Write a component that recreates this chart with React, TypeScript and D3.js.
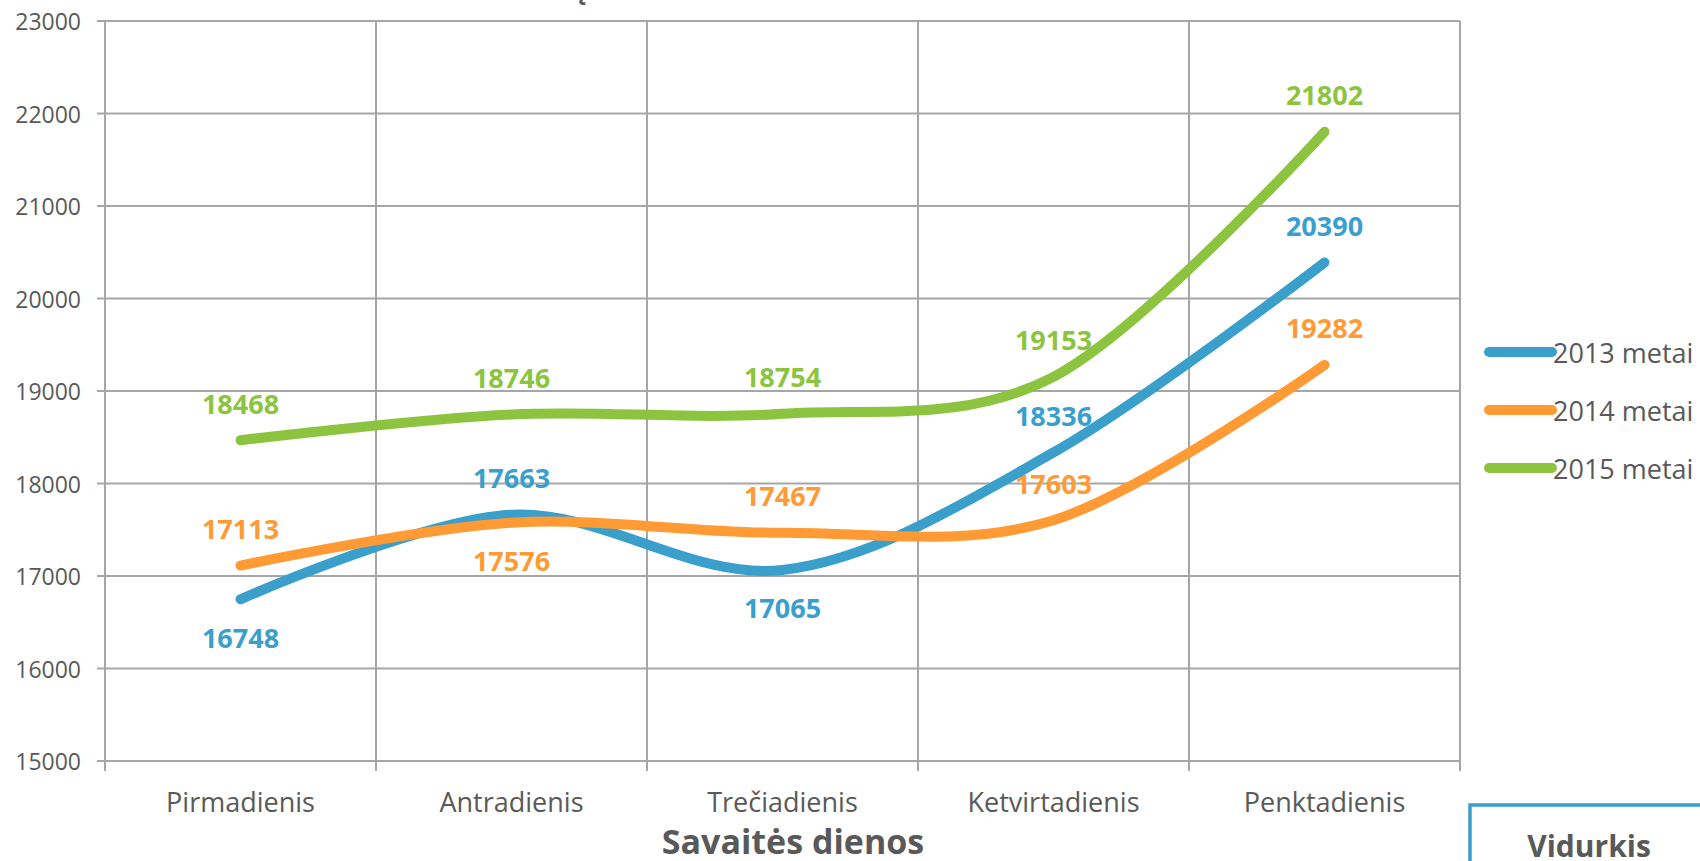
import React, { useEffect } from "react";
import * as d3 from "d3";

const days = ["Pirmadienis", "Antradienis", "Trečiadienis", "Ketvirtadienis", "Penktadienis"];
const seriesNames = ["2013 metai", "2014 metai", "2015 metai"];
const values2013 = [16748, 17663, 17065, 18336, 20390];
const values2014 = [17113, 17576, 17467, 17603, 19282];
const values2015 = [18468, 18746, 18754, 19153, 21802];
// where Excel put each data label relative to its point
const labelPos2013 = ["below", "above", "below", "above", "above"];
const labelPos2014 = ["above", "below", "above", "above", "above"];
const labelPos2015 = ["above", "above", "above", "above", "above"];
const yTicks = [15000, 16000, 17000, 18000, 19000, 20000, 21000, 22000, 23000];

const colors = ["#3A9FCB", "#FF9A35", "#8CC43F"];
const gridColor = "#A6A6A6";
const textColor = "#595959";
const font = "'Open Sans', Lato, sans-serif";

const App = () => {
  useEffect(() => {
    document.body.style.margin = "0";
  }, []);

  const width = 1700;
  const height = 861;
  const margin = { top: 21, left: 105, right: 240, bottom: 100 };

  const x = d3
    .scaleBand()
    .domain(days)
    .range([margin.left, width - margin.right]);
  const y = d3
    .scaleLinear()
    .domain([15000, 23000])
    .range([height - margin.bottom, margin.top]);

  const cx = (d: string) => (x(d) as number) + x.bandwidth() / 2;

  const series = [
    { name: seriesNames[0], values: values2013, pos: labelPos2013, color: colors[0] },
    { name: seriesNames[1], values: values2014, pos: labelPos2014, color: colors[1] },
    { name: seriesNames[2], values: values2015, pos: labelPos2015, color: colors[2] },
  ];

  const line = d3
    .line<number>()
    .x((_, i) => cx(days[i]))
    .y((v) => y(v))
    .curve(d3.curveCatmullRom.alpha(0));

  const [x0, x1] = x.range();
  const [yBottom, yTop] = y.range();
  const bounds = [...days.map((d) => x(d) as number), x1];

  return (
    <svg width={width} height={height} style={{ display: "block", fontFamily: font }}>
      <rect width={width} height={height} fill="#fff" />

      {/* chart title, pushed above the visible area */}
      <text x={569} y={-2} fontSize={30} fontWeight="bold" fill={textColor}>
        ą
      </text>

      {/* grid */}
      {yTicks.map((t) => (
        <line key={t} x1={x0 - 8} x2={x1} y1={y(t)} y2={y(t)} stroke={gridColor} strokeWidth={2} />
      ))}
      {bounds.map((b, i) => (
        <line key={i} x1={b} x2={b} y1={yTop} y2={yBottom + 10} stroke={gridColor} strokeWidth={2} />
      ))}

      {/* y tick labels */}
      {yTicks.map((t) => (
        <text
          key={t}
          x={x0 - 24}
          y={y(t)}
          textAnchor="end"
          dominantBaseline="central"
          fontSize={23}
          fill={textColor}
        >
          {t}
        </text>
      ))}

      {/* category labels */}
      {days.map((d) => (
        <text key={d} x={cx(d)} y={812} textAnchor="middle" fontSize={27} fill={textColor}>
          {d}
        </text>
      ))}
      <text x={793} y={854} textAnchor="middle" fontSize={34} fontWeight="bold" fill={textColor}>
        Savaitės dienos
      </text>

      {/* data labels */}
      {series.map((s) =>
        s.values.map((v, i) => (
          <text
            key={s.name + i}
            x={cx(days[i])}
            y={y(v) + (s.pos[i] === "above" ? -37 : 38)}
            textAnchor="middle"
            dominantBaseline="central"
            fontSize={27}
            fontWeight="bold"
            fill={s.color}
          >
            {v}
          </text>
        ))
      )}

      {/* lines */}
      {series.map((s) => (
        <path
          key={s.name}
          d={line(s.values) as string}
          fill="none"
          stroke={s.color}
          strokeWidth={10}
          strokeLinecap="round"
        />
      ))}

      {/* legend */}
      {series.map((s, i) => (
        <g key={s.name} transform={`translate(1489,${352 + i * 58})`}>
          <line x1={0} x2={63} y1={0} y2={0} stroke={s.color} strokeWidth={10} strokeLinecap="round" />
          <text x={64} y={0} dominantBaseline="central" fontSize={27} fill={textColor}>
            {s.name}
          </text>
        </g>
      ))}

      {/* Vidurkis box (cut off by the page edge) */}
      <rect x={1470} y={805} width={300} height={120} fill="none" stroke={colors[0]} strokeWidth={3.5} />
      <text x={1589} y={857} textAnchor="middle" fontSize={30} fontWeight="bold" fill={textColor}>
        Vidurkis
      </text>
    </svg>
  );
};

export default App;
